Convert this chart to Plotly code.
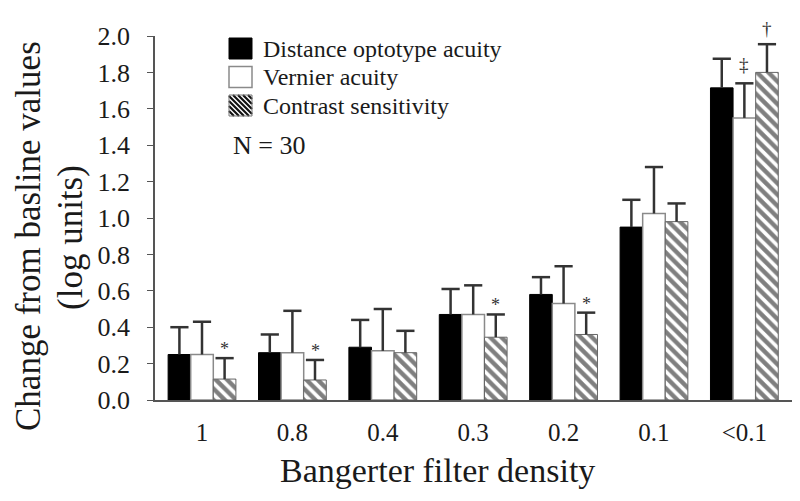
import plotly.graph_objects as go

# ---------------- data ----------------
categories = ["1", "0.8", "0.4", "0.3", "0.2", "0.1", "<0.1"]
series_names = ["Distance optotype acuity", "Vernier acuity", "Contrast sensitivity"]

distance_vals = [0.25, 0.26, 0.29, 0.47, 0.58, 0.95, 1.715]
distance_err = [0.15, 0.10, 0.15, 0.14, 0.095, 0.15, 0.16]

vernier_vals = [0.25, 0.26, 0.27, 0.47, 0.53, 1.025, 1.55]
vernier_err = [0.18, 0.23, 0.23, 0.16, 0.205, 0.255, 0.19]

contrast_vals = [0.115, 0.11, 0.26, 0.345, 0.36, 0.98, 1.80]
contrast_err = [0.115, 0.11, 0.12, 0.125, 0.12, 0.10, 0.155]

# significance marks: (series index, category index, symbol)
sig_series = [2, 2, 2, 2, 1, 2]
sig_cat = [0, 1, 3, 4, 6, 6]
sig_text = ["*", "*", "*", "*", "‡", "†"]

y_ticks = [0.0, 0.2, 0.4, 0.6, 0.8, 1.0, 1.2, 1.4, 1.6, 1.8, 2.0]

# ---------------- styling ----------------
FONT = "Liberation Serif"
TXT = "#1a1a1a"
AX = "#555555"
ERR = "#333333"
BAR_W = 0.25
offsets = [-BAR_W, 0.0, BAR_W]

all_vals = [distance_vals, vernier_vals, contrast_vals]
all_err = [distance_err, vernier_err, contrast_err]
markers = [
    dict(color="black", line=dict(color="black", width=1)),
    dict(color="white", line=dict(color="#8a8a8a", width=1.5)),
    dict(color="white", line=dict(color="#666666", width=1),
         pattern=dict(shape="\\", fgcolor="black", bgcolor="white",
                      size=8, solidity=0.55)),
]

fig = go.Figure()
idx = list(range(len(categories)))

for k in range(3):
    xs = [i + offsets[k] for i in idx]
    fig.add_trace(go.Bar(x=xs, y=all_vals[k], width=BAR_W, marker=markers[k],
                         name=series_names[k], showlegend=False))

# error bars (upper only) as stems + caps
for k in range(3):
    sx, sy, cx, cy = [], [], [], []
    for i in idx:
        x = i + offsets[k]
        top = all_vals[k][i] + all_err[k][i]
        sx += [x, x, None]
        sy += [all_vals[k][i], top, None]
        cx.append(x)
        cy.append(top)
    fig.add_trace(go.Scatter(x=sx, y=sy, mode="lines",
                             line=dict(color=ERR, width=2.5),
                             showlegend=False, hoverinfo="skip"))
    fig.add_trace(go.Scatter(x=cx, y=cy, mode="markers",
                             marker=dict(symbol="line-ew", size=13,
                                         line=dict(color=ERR, width=2.5)),
                             showlegend=False, hoverinfo="skip"))

annotations = []
for s, c, t in zip(sig_series, sig_cat, sig_text):
    top = all_vals[s][c] + all_err[s][c]
    if t == "*":
        ysh, fs = -3, 18
    elif t == "‡":
        ysh, fs = 6, 19
    else:
        ysh, fs = 3, 19
    annotations.append(dict(x=c + offsets[s], y=top, xref="x", yref="y",
                            text=t, showarrow=False, yanchor="bottom",
                            yshift=ysh,
                            font=dict(family=FONT, size=fs, color="#333333")))

# geometry (window pixels; the page body has an 8px default margin)
BODY = 8
FIG_W, FIG_H = 800 - BODY, 501 - BODY
L, T = 155 - BODY, 36 - BODY
R = FIG_W - (793 - BODY)
B = FIG_H - (400 - BODY)
PW, PH = FIG_W - L - R, FIG_H - T - B


def px(x):
    return (x - BODY - L) / PW


def py(y):
    return (FIG_H - B - (y - BODY)) / PH


# axis titles
annotations.append(dict(x=px(28), y=py(236), xref="paper", yref="paper",
                        text="Change from basline values", textangle=-90,
                        showarrow=False, xanchor="center", yanchor="middle",
                        font=dict(family=FONT, size=35, color=TXT)))
annotations.append(dict(x=px(70), y=py(238), xref="paper", yref="paper",
                        text="(log units)", textangle=-90,
                        showarrow=False, xanchor="center", yanchor="middle",
                        font=dict(family=FONT, size=35, color=TXT)))
annotations.append(dict(x=px(437), y=py(470), xref="paper", yref="paper",
                        text="Bangerter filter density",
                        showarrow=False, xanchor="center", yanchor="middle",
                        font=dict(family=FONT, size=34, color=TXT)))

# custom legend
legend_rows = [48.5, 77, 105.5]
sw_x0, sw_x1 = 229, 252
shapes = []
for k, yc in enumerate(legend_rows):
    y0, y1 = yc - 10.5, yc + 10.5
    if k == 0:
        shapes.append(dict(type="rect", xref="paper", yref="paper",
                           x0=px(sw_x0), x1=px(sw_x1), y0=py(y1), y1=py(y0),
                           fillcolor="black", line=dict(color="black", width=1)))
    elif k == 1:
        shapes.append(dict(type="rect", xref="paper", yref="paper",
                           x0=px(sw_x0), x1=px(sw_x1), y0=py(y1), y1=py(y0),
                           fillcolor="white", line=dict(color="#8a8a8a", width=1.5)))
    else:
        w = sw_x1 - sw_x0
        h = y1 - y0
        step = 5.0
        c = -h
        while c < w:
            t0 = max(0.0, -c)
            t1 = min(h, w - c)
            if t1 > t0:
                shapes.append(dict(type="line", xref="paper", yref="paper",
                                   x0=px(sw_x0 + c + t0), y0=py(y0 + t0),
                                   x1=px(sw_x0 + c + t1), y1=py(y0 + t1),
                                   line=dict(color="#111111", width=2.2)))
            c += step
        shapes.append(dict(type="rect", xref="paper", yref="paper",
                           x0=px(sw_x0), x1=px(sw_x1), y0=py(y1), y1=py(y0),
                           fillcolor="rgba(0,0,0,0)", line=dict(color="#777777", width=1)))
    annotations.append(dict(x=px(261), y=py(yc), xref="paper", yref="paper",
                            text=series_names[k], showarrow=False,
                            xanchor="left", yanchor="middle",
                            font=dict(family=FONT, size=24, color=TXT)))

annotations.append(dict(x=px(231), y=py(145), xref="paper", yref="paper",
                        text="N = 30", showarrow=False,
                        xanchor="left", yanchor="middle",
                        font=dict(family=FONT, size=26, color=TXT)))

fig.update_layout(
    width=FIG_W, height=FIG_H,
    margin=dict(l=L, r=R, t=T, b=B),
    paper_bgcolor="white", plot_bgcolor="white",
    barmode="overlay",
    showlegend=False,
    annotations=annotations,
    shapes=shapes,
    font=dict(family=FONT, color=TXT),
    xaxis=dict(range=[-0.52, 6.538], tickvals=idx, ticktext=categories,
               showgrid=False, zeroline=False, showline=True,
               linecolor=AX, linewidth=1.5, ticks="",
               ticklabelstandoff=9,
               tickfont=dict(family=FONT, size=25, color=TXT)),
    yaxis=dict(range=[0, 2.0], tickvals=y_ticks,
               ticktext=[f"{v:.1f}" for v in y_ticks],
               showgrid=False, zeroline=False, showline=True,
               linecolor=AX, linewidth=1.5, ticks="outside", ticklen=6,
               tickcolor=AX, tickwidth=1.2, ticklabelstandoff=12,
               tickfont=dict(family=FONT, size=26, color=TXT)),
)

fig.write_html("out.html")
